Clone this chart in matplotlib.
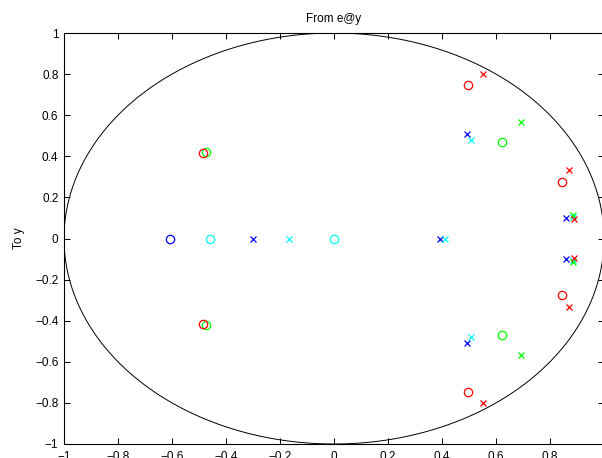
import numpy as np
import matplotlib
matplotlib.use("Agg")
import matplotlib.pyplot as plt

plt.rcParams['font.family'] = ['Liberation Sans', 'DejaVu Sans']

# Poles (x) and zeros (o) per system, upper half-plane values; conjugates are mirrored
blue_poles = [(-0.300, 0.0), (0.393, 0.0), (0.491, 0.509), (0.858, 0.098)]
blue_zeros = [(-0.609, 0.0)]
cyan_poles = [(-0.167, 0.0), (0.411, 0.0), (0.507, 0.480), (0.885, 0.107)]
cyan_zeros = [(-0.459, 0.0), (0.0, 0.0)]
green_poles = [(0.691, 0.566), (0.885, 0.112)]
green_zeros = [(-0.474, 0.420), (0.621, 0.468)]
red_poles = [(0.552, 0.800), (0.869, 0.332), (0.888, 0.096)]
red_zeros = [(-0.485, 0.415), (0.495, 0.748), (0.843, 0.273)]

xticks = [-1, -0.8, -0.6, -0.4, -0.2, 0, 0.2, 0.4, 0.6, 0.8, 1]
yticks = [-1, -0.8, -0.6, -0.4, -0.2, 0, 0.2, 0.4, 0.6, 0.8, 1]


def mirror(pts):
    out = []
    for x, y in pts:
        out.append((x, y))
        if y != 0:
            out.append((x, -y))
    arr = np.array(out)
    return arr[:, 0], arr[:, 1]


fig = plt.figure(figsize=(6.02, 4.58), dpi=100)
ax = fig.add_axes([64 / 602, 1 - 444 / 458, 540 / 602, 411 / 458])

th = np.linspace(0, 2 * np.pi, 400)
ax.plot(np.cos(th), np.sin(th), color='black', lw=0.7)

series = [
    ('#0000ff', blue_poles, blue_zeros),
    ('#00ffff', cyan_poles, cyan_zeros),
    ('#00ff00', green_poles, green_zeros),
    ('#ff0000', red_poles, red_zeros),
]
for col, poles, zeros in series:
    px, py = mirror(poles)
    ax.plot(px, py, linestyle='none', marker='x', color=col, ms=5, mew=0.9)
    zx, zy = mirror(zeros)
    ax.plot(zx, zy, linestyle='none', marker='o', mfc='none', mec=col, ms=6, mew=0.9)

ax.set_xlim(-1, 1)
ax.set_ylim(-1, 1)
ax.set_xticks(xticks)
ax.set_yticks(yticks)
ax.set_xticklabels([f"{v:g}".replace('-', '\u2212') for v in xticks])
ax.set_yticklabels([f"{v:g}".replace('-', '\u2212') for v in yticks])
ax.tick_params(direction='in', top=True, right=True, length=4, width=0.7, labelsize=8.5)
ax.tick_params(axis='x', pad=5)
ax.tick_params(axis='y', pad=4)
for s in ax.spines.values():
    s.set_linewidth(0.8)

ax.set_title('From e@y', fontsize=8.5, pad=8)
ax.set_ylabel('To y', fontsize=8.5, labelpad=7)

fig.savefig('out.png', dpi=100)
